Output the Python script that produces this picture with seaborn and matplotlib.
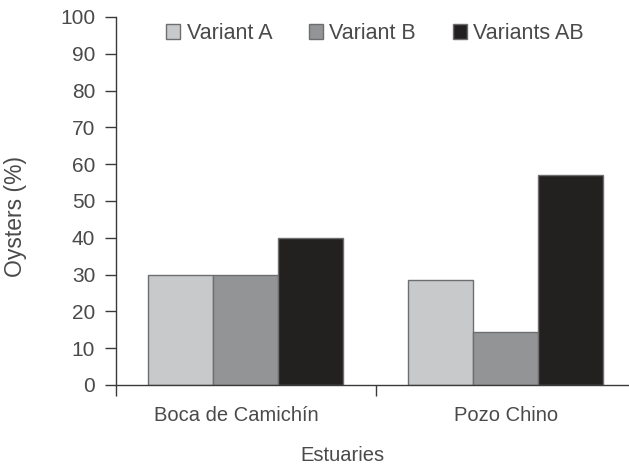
import pandas as pd
import matplotlib.pyplot as plt
import matplotlib.transforms as mtransforms
import seaborn as sns

# Oyster percentages per estuary and variant
estuaries = ["Boca de Camichín", "Pozo Chino"]
variants = ["Variant A", "Variant B", "Variants AB"]
variant_a = [30.0, 28.6]
variant_b = [30.0, 14.3]
variants_ab = [40.0, 57.1]

rows = []
for i, est in enumerate(estuaries):
    for var, vals in zip(variants, [variant_a, variant_b, variants_ab]):
        rows.append({"Estuary": est, "Variant": var, "Oysters": vals[i]})
df = pd.DataFrame(rows)

sns.set_style("white")
plt.rcParams['font.family'] = ['Liberation Sans', 'DejaVu Sans']
text_color = "#4a4a4a"
axis_color = "#3a3a3a"

fig = plt.figure(figsize=(6.29, 4.68), dpi=100)
ax = fig.add_axes([0.1844, 0.1774, 0.8267, 0.7863])

sns.barplot(data=df, x="Estuary", y="Oysters", hue="Variant",
            palette=["#c8c9cb", "#939497", "#231f20"],
            width=0.75, gap=0, edgecolor="#6e6e70", linewidth=1,
            errorbar=None, ax=ax)

ax.set_xlim(-0.5, 1.5)
ax.set_ylim(0, 100)
ax.set_yticks(range(0, 101, 10))
ax.set_xticks([-0.5, 0.5, 1.5], minor=True)

sns.despine(ax=ax, top=True, right=True)
for side in ["left", "bottom"]:
    ax.spines[side].set_color(axis_color)
    ax.spines[side].set_linewidth(1)

ax.tick_params(axis="y", which="major", direction="out", length=8, width=1,
               color=axis_color, labelsize=15, labelcolor=text_color, pad=7, left=True)
ax.tick_params(axis="x", which="major", length=0, labelsize=14.5,
               labelcolor=text_color, pad=15)
ax.tick_params(axis="x", which="minor", direction="out", length=8, width=1,
               color=axis_color, bottom=True)

# first category label sits a little left of its bar group in the original
first = ax.get_xticklabels()[0]
first.set_transform(first.get_transform()
                    + mtransforms.ScaledTranslation(-0.1, 0, fig.dpi_scale_trans))

ax.set_xlabel("Estuaries", fontsize=14.5, color=text_color)
ax.xaxis.set_label_coords(0.435, -0.165)
ax.set_ylabel("Oysters (%)", fontsize=16.5, color=text_color)
ax.yaxis.set_label_coords(-0.172, 0.457)

ax.legend(loc="center", bbox_to_anchor=(0.498, 0.955), ncol=3, frameon=False,
          fontsize=15.5, handlelength=0.65, handleheight=0.65, handletextpad=0.3,
          columnspacing=1.7, labelcolor=text_color)

fig.savefig("out.png", dpi=100)
